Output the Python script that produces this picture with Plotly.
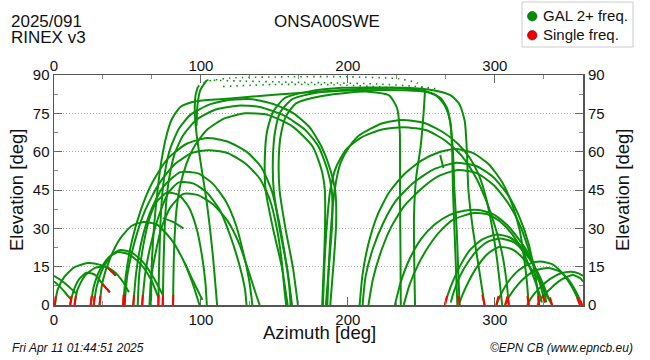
import plotly.graph_objects as go

# ---------------- data (azimuth deg, elevation deg) ----------------
x_ticks = [0, 100, 200, 300]
y_ticks = [0, 15, 30, 45, 60, 75, 90]
legend_labels = ["GAL 2+ freq.", "Single freq."]

# east side, low arcs
arc_e_wrap1 = [(0, 11.4), (5, 9.6), (10, 7.2), (15, 4.5)]
arc_e_wrap2 = [(0, 9.2), (4, 7.2), (8, 4.6), (11, 2.5)]
arc_e_a = [(0.6, 0), (2.5, 6), (7, 11), (14, 14.8), (23, 16.4), (31, 15.8), (37, 14.3), (42, 11.5)]
arc_e_b = [(11, 0), (13, 5), (17, 10), (22, 12.6), (28, 11.8), (33, 8.2), (38, 5)]
arc_e_c = [(14, 0), (16, 6), (21, 11.5), (28, 14.5), (35, 15), (41, 13), (47, 9), (51, 5)]
arc_e_d = [(25, 0), (27, 7), (31, 13.5), (37, 18.5), (43.5, 20.7), (51, 19.8), (59, 16), (66, 10), (71, 3)]
arc_e_e = [(27, 0), (29, 7), (33, 14), (39, 19.5), (45, 21.5), (53, 20.5), (61, 16.5), (68, 10.5), (74, 4)]
arc_e_f = [(31, 0), (33, 9), (38, 18), (45, 26), (53, 31), (61, 32.5), (70, 31.5), (80, 25.5), (88, 17.5), (94, 9), (99, 0)]
seg_s1 = [(74, 34), (81, 32.5), (88, 30)]
seg_s2 = [(89, 16.5), (95, 9), (101, 2)]

# east side, middle arcs
arc_m1 = [(47, 0), (49, 12), (53, 25), (59, 37), (67, 48), (77, 57), (90, 63), (104, 65.3), (118, 64), (131, 60),
          (141, 54), (148, 45), (153, 33), (157, 20), (160, 8), (161, 0)]
arc_m2 = [(48, 0), (50, 12), (55, 25), (62, 37), (71, 47), (82, 55), (94, 59.5), (105, 60.6), (118, 59.5), (130, 55.5),
          (140, 49.5), (147, 41), (152, 29), (155, 17), (157, 5), (158, 0)]
arc_m3 = [(54, 0), (56, 13), (60, 26), (66, 37), (74, 46), (86, 52), (98, 51.5), (108, 47.5), (117, 40.5), (124, 31),
          (129, 20), (133, 9), (135, 0)]
arc_m4 = [(60, 0), (62, 12), (66, 24), (72, 36), (78, 44), (85, 48), (95, 47.5), (104, 44), (113, 37), (120, 27),
          (126, 16), (130, 6), (131, 0)]
arc_m5 = [(65, 0), (66, 10), (69, 20), (73, 30), (79, 38), (88, 43.5), (98, 43), (108, 39.5), (118, 33), (126, 24),
          (132, 14), (137, 5), (140, 0)]
arc_m7 = [(57, 0), (58, 12), (61, 24), (65, 34), (70, 40.5), (77, 44), (85, 43), (92, 38), (97, 30), (100.5, 20),
          (103, 9), (104, 0)]

# east side, high arcs
arc_h1 = [(71, 0), (71.5, 15), (72.3, 30), (73.5, 42), (75.5, 52), (79, 61), (85, 69), (93, 74.5), (106, 78.5),
          (120, 80.3), (135, 80.5), (150, 78.5), (163, 75), (174, 69.5), (182, 62), (188, 53), (191.5, 44),
          (192, 32), (190.5, 18), (188, 0)]
arc_h2 = [(74, 0), (74.5, 15), (75.3, 30), (76.5, 41), (78.5, 50), (82, 59), (88, 66.5), (97, 72.5), (110, 76.5),
          (125, 78), (140, 77.5), (157, 74), (171, 68.5), (180, 62), (186, 53), (189, 45), (189.3, 32),
          (187.5, 18), (185, 0)]
arc_h3 = [(81, 0), (81.4, 15), (82.2, 28), (83.5, 38), (86, 47), (90, 55), (96, 62.5), (104, 68.5), (116, 73),
          (130, 75), (145, 74.5), (162, 70), (176, 62), (182, 53), (184.3, 45), (184.5, 32), (183.8, 18),
          (182.5, 0)]
arc_h4 = [(66, 0), (66.5, 15), (68, 30), (70.5, 45), (73, 56), (76, 65), (80, 72.5), (86, 77.5), (95, 79.5),
          (104, 80.2), (120, 80.8), (150, 82.3), (184, 83.6), (210, 84.6), (230, 85), (250, 84), (260, 82),
          (266, 78), (269.5, 72), (271.5, 60), (272.5, 45), (274, 30), (275, 15), (276, 0)]

# west side, high arcs rising from south
arc_hr1 = [(159, 0), (155, 15), (149, 30), (144, 45), (143.5, 58), (145, 68), (149, 75.5), (157, 81), (173, 83.5),
           (196, 85), (239, 85), (258, 84), (270, 82), (276, 78.5), (279.5, 72), (281, 60), (282, 45),
           (285, 30), (289, 15), (293, 0)]
arc_hr2 = [(162, 0), (158.5, 15), (153.5, 30), (149.5, 45), (149, 58), (150.5, 68), (154, 75.5), (162, 80.5),
           (177.7, 83), (207, 84), (239, 84), (254, 83.3), (263, 81), (267.5, 77), (270, 70), (271, 59.5),
           (271.5, 45), (272.5, 30), (273.5, 15), (274.5, 0)]
arc_hr3 = [(166, 0), (162.5, 15), (157.5, 30), (153.5, 45), (153, 58), (154.5, 67), (158, 74), (165, 79),
           (184.5, 82), (212, 83.5), (228, 82), (233.5, 77), (235.3, 68), (235.5, 55), (235.5, 40),
           (235.8, 20), (236, 0)]
seg_s3 = [(262.8, 58.7), (264, 56), (265, 53.6)]

# arcs crossing near the zenith (solid feet, sparse dotted tops)
arc_z1_solid = [(111, 0), (108, 20), (104, 40), (100, 55), (97, 67), (95.8, 76), (96.3, 82), (98, 85.5)]
arc_z1_dots = [(98, 85.5), (104, 87.5), (120, 88.8), (160, 89.3), (200, 89.3), (235, 88.5), (247, 86.9), (252.5, 84)]
arc_z1_end = [(252.5, 84), (251.5, 75), (249.5, 62), (246.5, 50), (245, 35), (245.2, 15), (245.7, 0)]
arc_z2_solid = [(97, 70), (97.6, 78), (99.5, 84), (104, 88)]
arc_z2_dots = [(104, 88), (130, 87.6), (160, 87.2), (190, 86.9), (220, 86.5), (245, 85.6), (262, 84.5)]
arc_z3_dots = [(115, 85.5), (150, 86.3), (190, 86.2), (225, 85.3), (250, 84.5)]

# west side, middle arcs
arc_w1 = [(186, 0), (187, 15), (188.5, 30), (191, 45), (195, 55.6), (201, 62), (208, 66.5), (223, 71),
          (237, 72.4), (252, 71.2), (265, 67.5), (275, 63), (283, 57.5), (289, 51), (294, 42), (298, 31),
          (301, 20), (303.5, 8), (305, 0)]
arc_w2 = [(183, 0), (184, 15), (185.5, 30), (188, 45), (192, 54), (199, 61), (209, 65.5), (222, 68.5),
          (238, 69.6), (254, 68.3), (267, 64), (278, 58), (287, 50), (294, 41), (300, 31), (305, 20),
          (308, 9), (309.5, 0)]
arc_w3 = [(208, 0), (210, 12), (214, 24), (220, 35), (228, 44), (238, 51), (250, 56.5), (262, 59.8),
          (273, 61), (285, 59.5), (296, 55), (305, 48), (312, 39), (317, 29), (320, 18), (322, 8), (323, 0)]
arc_w4 = [(210, 0), (212, 11), (217, 22), (224, 32), (233, 41), (245, 48), (258, 53), (273, 55.6),
          (287, 54.5), (299, 50), (309, 43), (317, 34), (323, 24), (327, 13), (329.5, 4), (330, 0)]
arc_w5 = [(214, 0), (217, 10), (222, 20), (229, 30), (238, 38.5), (250, 45.5), (262, 50.5), (275, 52.8),
          (288, 51.5), (300, 46.5), (310, 39), (318, 30), (324, 20), (330, 10), (334, 1)]

# west side, low arcs
arc_w6 = [(232, 0), (236, 9), (242, 18), (250, 26), (259, 31.5), (269, 35.2), (279, 36.9), (289, 37.2),
          (299, 35.5), (308, 31.5), (316, 26), (322, 21), (326, 16)]
arc_w7 = [(238, 0), (242, 8), (248, 16), (255, 23), (263, 29), (272, 33.5), (286, 36), (295, 35.5),
          (304, 32.5), (312, 27.5), (319, 21), (325, 13), (330, 5), (332, 1)]
arc_w8 = [(266, 0), (268, 4), (272, 10), (277, 16), (283, 21.5), (291, 25.5), (301, 27.6), (310, 26.5),
          (318, 23), (325, 17), (331, 10), (334, 4), (335, 1)]
arc_w9 = [(270, 1), (272, 5), (276, 11), (282, 17), (289, 22), (296, 25), (304, 26), (313, 24.5),
          (321, 20), (328, 14), (333, 8), (337, 2)]
arc_w10 = [(276, 1), (278, 4), (282, 9), (288, 15), (295, 20), (303, 22.7), (311, 22), (318, 19),
           (325, 14), (331, 8.5), (336, 3), (339, 0)]
arc_w11 = [(301, 0), (304, 4), (309, 9), (316, 13.5), (324, 16.2), (331, 17), (339, 16), (346, 12.5),
           (352, 7.5), (356, 3), (358, 0)]
arc_w12 = [(307, 0), (310, 3.5), (315, 7.5), (321, 11), (328, 13.6), (336, 14.5), (344, 13.2), (350, 10),
           (355, 5.5), (358, 2)]
arc_w13 = [(322, 0), (325, 3), (331, 7), (338, 10.3), (345, 12.4), (352, 13), (357, 12.4), (360, 11.4)]
arc_w14 = [(329, 0), (332, 3), (338, 6.5), (345, 9.8), (353, 11.7), (358, 10.5), (360, 9.2)]

# single-frequency (red) pieces
red_pieces = [
    [(0.6, 0), (1.2, 3.5)], [(11, 0), (11.8, 3.5)], [(14, 0), (14.8, 3.5)], [(25, 0), (25.6, 3.5)],
    [(27, 0), (27.6, 3.5)], [(31, 0), (31.5, 3.5)], [(47, 0), (47.4, 4)], [(48, 0), (48.4, 4)],
    [(54, 0), (54.4, 4)], [(60, 0), (60.4, 4)], [(71, 0), (71.2, 4)], [(74, 0), (74.2, 4)],
    [(81, 0), (81.2, 4)],
    [(37, 14.3), (39.5, 13), (42, 11.5)], [(33, 8.2), (35.5, 6.6), (38, 5)],
    [(266, 0), (267.5, 3.5)], [(276, 0), (275.3, 3.5)], [(293, 0), (291.5, 4)], [(301, 0), (302.5, 3.5)],
    [(307, 0), (308.5, 3)], [(309.5, 0), (308.5, 3.5)], [(323, 0), (322.2, 3.5)], [(330, 0), (329.5, 3.5)],
    [(334, 1), (332.5, 4)], [(339, 0), (337.5, 3)], [(356, 3), (358, 0)], [(358, 2), (359.5, 0)],
]

green_arcs = [arc_e_wrap1, arc_e_wrap2, arc_e_a, arc_e_b, arc_e_c, arc_e_d, arc_e_e, arc_e_f, seg_s1, seg_s2,
              arc_m1, arc_m2, arc_m3, arc_m4, arc_m5, arc_m7, arc_h1, arc_h2, arc_h3, arc_h4,
              arc_hr1, arc_hr2, arc_hr3, seg_s3, arc_z1_solid, arc_z1_end, arc_z2_solid,
              arc_w1, arc_w2, arc_w3, arc_w4, arc_w5, arc_w6, arc_w7, arc_w8, arc_w9, arc_w10,
              arc_w11, arc_w12, arc_w13, arc_w14]
dotted_arcs = [arc_z1_dots, arc_z2_dots, arc_z3_dots]

GREEN = "#0a8f0a"
RED = "#ff0000"
FONT = "Liberation Sans, Arial, Helvetica, sans-serif"

fig = go.Figure()
for arc in green_arcs:
    az, el = zip(*arc)
    fig.add_trace(go.Scatter(x=az, y=el, mode="lines", showlegend=False, hoverinfo="skip",
                             line=dict(color=GREEN, width=2, shape="spline", smoothing=0.6)))
for arc in dotted_arcs:
    az, el = zip(*arc)
    fig.add_trace(go.Scatter(x=az, y=el, mode="lines", showlegend=False, hoverinfo="skip",
                             line=dict(color=GREEN, width=1.6, dash="1.5px,5px", shape="spline", smoothing=0.6)))
for arc in red_pieces:
    az, el = zip(*arc)
    fig.add_trace(go.Scatter(x=az, y=el, mode="lines", showlegend=False, hoverinfo="skip",
                             line=dict(color=RED, width=2)))

# anchor trace for the mirrored axes
fig.add_trace(go.Scatter(x=[0], y=[0], xaxis="x2", yaxis="y2", mode="markers", showlegend=False,
                         hoverinfo="skip", marker=dict(opacity=0)))

axis_common = dict(showline=True, linecolor="#555555", linewidth=1.5, ticks="inside", tickcolor="#666666",
                   tickwidth=1, ticklen=8, tickfont=dict(size=15, color="#111111", family=FONT),
                   zeroline=False, automargin=False)
fig.update_layout(
    width=650, height=360,
    margin=dict(l=54, r=67, t=75, b=55, autoexpand=False),
    paper_bgcolor="white", plot_bgcolor="white",
    font=dict(family=FONT, color="#111111"),
    showlegend=False,
    xaxis=dict(range=[0, 360], tickvals=x_ticks, mirror="allticks", showgrid=False,
               minor=dict(dtick=100 / 3, tick0=0, ticks="inside", ticklen=4, tickcolor="#888888", showgrid=False),
               **axis_common),
    yaxis=dict(range=[0, 90], tickvals=y_ticks, mirror="allticks", showgrid=True, gridcolor="#aaaaaa",
               griddash="1px,2px", gridwidth=1,
               minor=dict(dtick=7.5, tick0=0, ticks="inside", ticklen=4, tickcolor="#888888", showgrid=False),
               **axis_common),
    xaxis2=dict(range=[0, 360], tickvals=x_ticks, overlaying="x", side="top", anchor="y",
                showgrid=False, showline=False, ticks="", zeroline=False, automargin=False,
                tickfont=dict(size=15, color="#111111", family=FONT)),
    yaxis2=dict(range=[0, 90], tickvals=y_ticks, overlaying="y", side="right", anchor="x",
                showgrid=False, showline=False, ticks="", zeroline=False, automargin=False,
                ticklabelstandoff=4, tickfont=dict(size=15, color="#111111", family=FONT)),
)

def px_x(px):
    return (px - 54) / 529.0

def px_y(py):
    return (305 - py) / 230.0

# legend box drawn in page space
shapes = [
    dict(type="rect", x0=px_x(522), x1=px_x(633), y0=px_y(47), y1=px_y(2),
         line=dict(color="#cccccc", width=1), fillcolor="white"),
    dict(type="circle", x0=px_x(527.5), x1=px_x(537), y0=px_y(21), y1=px_y(11.5),
         line=dict(color="#055505", width=0.6), fillcolor="#078a07"),
    dict(type="circle", x0=px_x(527.5), x1=px_x(537), y0=px_y(40), y1=px_y(30.5),
         line=dict(color="#880000", width=0.6), fillcolor="#ee0000"),
]
for s in shapes:
    s.update(xref="paper", yref="paper", layer="above")
fig.update_layout(shapes=shapes)

annotations = [
    dict(text="2025/091", x=px_x(10), y=px_y(21), xanchor="left", yanchor="middle", font=dict(size=17)),
    dict(text="RINEX v3", x=px_x(10), y=px_y(37), xanchor="left", yanchor="middle", font=dict(size=17)),
    dict(text="ONSA00SWE", x=px_x(327), y=px_y(21), xanchor="center", yanchor="middle", font=dict(size=17)),
    dict(text=legend_labels[0], x=px_x(542), y=px_y(16), xanchor="left", yanchor="middle", font=dict(size=15)),
    dict(text=legend_labels[1], x=px_x(542), y=px_y(35), xanchor="left", yanchor="middle", font=dict(size=15)),
    dict(text="Azimuth [deg]", x=px_x(319), y=px_y(332), xanchor="center", yanchor="middle", font=dict(size=18.5)),
    dict(text="Elevation [deg]", x=px_x(16), y=px_y(190), xanchor="center", yanchor="middle",
         textangle=-90, font=dict(size=18.5)),
    dict(text="Elevation [deg]", x=px_x(622), y=px_y(190), xanchor="center", yanchor="middle",
         textangle=-90, font=dict(size=18.5)),
    dict(text="<i>Fri Apr 11 01:44:51 2025</i>", x=px_x(11), y=px_y(348), xanchor="left", yanchor="middle",
         font=dict(size=12)),
    dict(text="<i>©EPN CB (www.epncb.eu)</i>", x=px_x(634), y=px_y(348), xanchor="right", yanchor="middle",
         font=dict(size=12)),
]
for a in annotations:
    a.update(xref="paper", yref="paper", showarrow=False, borderpad=0)
fig.update_layout(annotations=annotations)

fig.write_html("out.html", config={"displayModeBar": False, "staticPlot": True},
               post_script="document.body.style.margin='0';document.body.style.overflow='hidden';")
